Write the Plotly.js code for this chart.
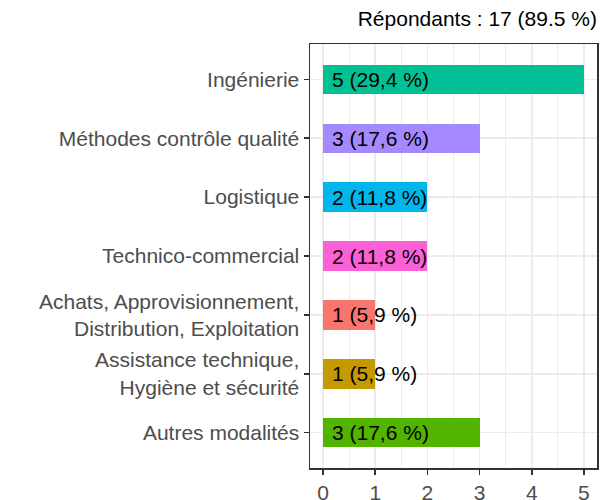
<!DOCTYPE html>
<html>
<head>
<meta charset="utf-8">
<script src="https://cdn.plot.ly/plotly-3.0.1.min.js"></script>
<style>html,body{margin:0;padding:0;background:#fff;}#chart{width:616px;height:500px;}</style>
</head>
<body>
<div id="chart"></div>
<script>
const categories = [
  "Ingénierie",
  "Méthodes contrôle qualité",
  "Logistique",
  "Technico-commercial",
  "Achats, Approvisionnement,<br>Distribution, Exploitation",
  "Assistance technique,<br>Hygiène et sécurité",
  "Autres modalités"
];
const counts = [5, 3, 2, 2, 1, 1, 3];
const labels = ["5 (29,4 %)", "3 (17,6 %)", "2 (11,8 %)", "2 (11,8 %)", "1 (5,9 %)", "1 (5,9 %)", "3 (17,6 %)"];
const colors = ["#00C094", "#A58AFF", "#00B6EB", "#FB61D7", "#F8766D", "#C49A00", "#53B400"];
const xTicks = [0, 1, 2, 3, 4, 5];
const titleText = "Répondants : 17 (89.5 %)";

const FONT = "Liberation Sans, Arial, sans-serif";

const trace = {
  type: "bar",
  orientation: "h",
  y: categories,
  x: counts,
  width: 0.5,
  marker: {color: colors, line: {width: 0}},
  hoverinfo: "none"
};

const annotations = categories.map((c, i) => ({
  x: 0, y: c, xref: "x", yref: "y",
  text: labels[i], showarrow: false,
  xanchor: "left", yanchor: "middle", xshift: 7,
  font: {family: FONT, size: 21, color: "#000000"}
}));

const layout = {
  width: 616, height: 500,
  margin: {l: 310, r: 19, t: 44, b: 32},
  paper_bgcolor: "#ffffff",
  plot_bgcolor: "#ffffff",
  showlegend: false,
  font: {family: FONT, size: 21, color: "#4D4D4D"},
  title: {
    text: titleText,
    font: {family: FONT, size: 21, color: "#000000"},
    xref: "paper", x: 1, xanchor: "right",
    yref: "container", y: 0.962, yanchor: "middle"
  },
  xaxis: {
    range: [-0.25, 5.25],
    tickvals: xTicks,
    ticktext: xTicks.map(String),
    showgrid: true, gridcolor: "#EBEBEB", gridwidth: 1.5,
    minor: {dtick: 0.5, tick0: 0, showgrid: true, gridcolor: "#EBEBEB", gridwidth: 1},
    zeroline: false,
    showline: true, mirror: true, linecolor: "#333333", linewidth: 1.5,
    ticks: "outside", ticklen: 5, tickwidth: 1.5, tickcolor: "#333333",
    tickfont: {family: FONT, size: 21, color: "#4D4D4D"},
    fixedrange: true
  },
  yaxis: {
    type: "category",
    categoryorder: "array",
    categoryarray: categories,
    range: [6.6, -0.6],
    showgrid: true, gridcolor: "#EBEBEB", gridwidth: 1.5,
    zeroline: false,
    showline: true, mirror: true, linecolor: "#333333", linewidth: 1.5,
    ticks: "outside", ticklen: 5, tickwidth: 1.5, tickcolor: "#333333",
    tickfont: {family: FONT, size: 21, color: "#4D4D4D"},
    fixedrange: true
  },
  annotations: annotations,
  bargap: 0
};

Plotly.newPlot("chart", [trace], layout, {displayModeBar: false, staticPlot: true});
</script>
</body>
</html>
